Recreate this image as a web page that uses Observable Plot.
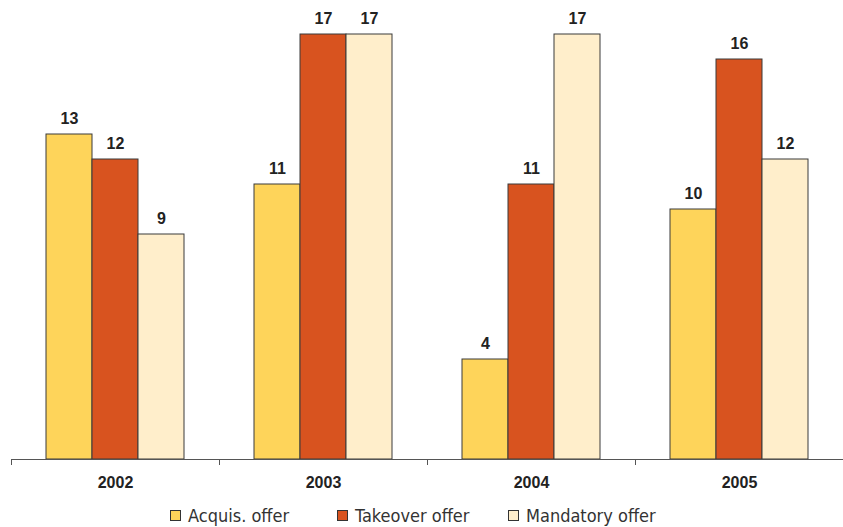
<!DOCTYPE html>
<html>
<head>
<meta charset="utf-8">
<script src="https://cdn.jsdelivr.net/npm/d3@7"></script>
<script src="https://cdn.jsdelivr.net/npm/@observablehq/plot@0.6"></script>
<style>
  html, body { margin: 0; padding: 0; background: #fff; }
  #wrap { position: relative; width: 843px; height: 527px; }
  #legend { position: absolute; left: 0; top: 503px; width: 843px; height: 24px;
    font-family: "DejaVu Sans Condensed", "DejaVu Sans", sans-serif; font-size: 18px; color: #333; }
  .item { position: absolute; top: 2px; display: flex; align-items: center; white-space: nowrap; }
  .sw { width: 9px; height: 9px; border: 1.5px solid #333; margin-right: 7px; }
</style>
</head>
<body>
<div id="wrap"><div id="chart"></div><div id="legend"></div></div>
<script>
const years = ["2002", "2003", "2004", "2005"];
const series = ["Acquis. offer", "Takeover offer", "Mandatory offer"];
const acquis = [13, 11, 4, 10];
const takeover = [12, 17, 11, 16];
const mandatory = [9, 17, 17, 12];
const colors = ["#FED45A", "#D8531F", "#FFEECB"];
const legendLeft = [170, 337, 508];

const values = [acquis, takeover, mandatory];
const data = [];
years.forEach((y, i) => series.forEach((s, k) => data.push({year: y, series: s, value: values[k][i]})));

const chart = Plot.plot({
  width: 843,
  height: 495,
  marginTop: 34,
  marginBottom: 36,
  marginLeft: 10,
  marginRight: 0,
  style: {fontFamily: "'Liberation Sans', Arial, sans-serif", fontSize: "16px", fontWeight: "bold", color: "#222", background: "#fff"},
  fx: {domain: years, padding: 0, axis: "bottom", tickSize: 0, tickPadding: 17, label: null},
  x: {domain: series, paddingInner: 0, paddingOuter: 0.76, axis: null},
  y: {domain: [0, 17], axis: null},
  color: {domain: series, range: colors},
  marks: [
    Plot.barY(data, {fx: "year", x: "series", y: "value", fill: "series", stroke: "#3a3a3a", strokeWidth: 1, inset: 0}),
    Plot.text(data, {fx: "year", x: "series", y: "value", text: d => String(d.value), lineAnchor: "bottom", dy: -11, fill: "#222"}),
    Plot.ruleY([0], {stroke: "#555", strokeWidth: 1})
  ]
});
document.getElementById("chart").appendChild(chart);

// Boundary ticks between year groups, positioned by the fx scale
const fx = chart.scale("fx");
const y = chart.scale("y");
const y0 = y.apply(0);
const edges = years.map(yr => fx.apply(yr));
edges.push(fx.apply(years[years.length - 1]) + fx.bandwidth);
d3.select(chart).append("g").selectAll("line").data(edges).join("line")
  .attr("x1", d => d).attr("x2", d => d)
  .attr("y1", y0).attr("y2", y0 + 6)
  .attr("stroke", "#555").attr("stroke-width", 1)
  .attr("shape-rendering", "crispEdges");

const legend = d3.select("#legend");
series.forEach((s, k) => {
  const it = legend.append("div").attr("class", "item").style("left", legendLeft[k] + "px");
  it.append("div").attr("class", "sw").style("background", colors[k]);
  it.append("span").text(s);
});
</script>
</body>
</html>
